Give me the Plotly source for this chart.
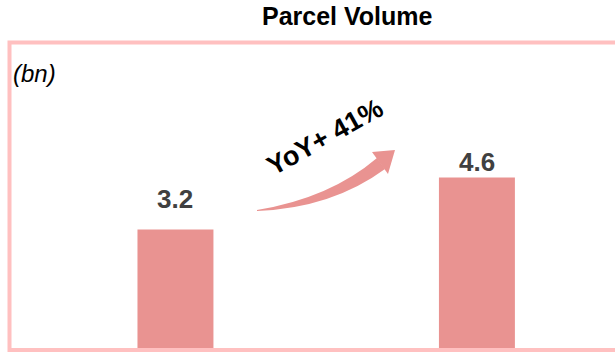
import plotly.graph_objects as go

categories = ["Year 1", "Year 2"]
values = [3.2, 4.6]
value_labels = ["3.2", "4.6"]
title_text = "Parcel Volume"
unit_text = "(bn)"
growth_text = "YoY+ 41%"

W, H = 615, 352
BAR = "#E99391"
BORDER = "#FFC0C0"

def px(x):
    return x / W

def py(y):
    return 1 - y / H

fig = go.Figure()
fig.add_trace(go.Bar(x=categories, y=values, width=0.252,
                     marker=dict(color=BAR, line=dict(width=0)),
                     hoverinfo="skip"))

label_shift = [30, 16]
annotations = []
for c, v, t, s in zip(categories, values, value_labels, label_shift):
    annotations.append(dict(x=c, y=v, xref="x", yref="y", text=f"<b>{t}</b>",
                            showarrow=False, yanchor="middle", yshift=s,
                            font=dict(family="Liberation Sans, Arial", size=26, color="#404040")))

annotations.append(dict(x=px(347), y=py(16), xref="paper", yref="paper",
                        text=f"<b>{title_text}</b>", showarrow=False,
                        xanchor="center", yanchor="middle",
                        font=dict(family="Liberation Sans, Arial", size=25, color="#000000")))
annotations.append(dict(x=px(11), y=py(73), xref="paper", yref="paper",
                        text=f"<i>{unit_text}</i>", showarrow=False,
                        xanchor="left", yanchor="middle",
                        font=dict(family="Liberation Sans, Arial", size=24, color="#000000")))
annotations.append(dict(x=px(325), y=py(137), xref="paper", yref="paper",
                        text=f"<b>{growth_text}</b>", showarrow=False, textangle=-29,
                        xanchor="center", yanchor="middle",
                        font=dict(family="Liberation Sans, Arial", size=27, color="#000000")))

def P(x, y):
    return f"{px(x):.5f},{py(y):.5f}"

arrow_body = (f"M {P(257,210)} Q {P(330,198)} {P(377,158)} "
              f"L {P(385,169)} Q {P(332,208)} {P(257,211)} Z")
arrow_head = f"M {P(372,152)} L {P(395,150)} L {P(388,174)} Z"

shapes = [
    dict(type="rect", xref="paper", yref="paper", x0=px(9.5), x1=1.05,
         y0=py(350), y1=py(42.5), line=dict(color=BORDER, width=4), layer="below"),
    dict(type="path", xref="paper", yref="paper", path=arrow_body,
         fillcolor=BAR, line=dict(width=0)),
    dict(type="path", xref="paper", yref="paper", path=arrow_head,
         fillcolor=BAR, line=dict(width=0)),
]

fig.update_layout(
    width=W, height=H, margin=dict(l=0, r=0, t=0, b=0),
    paper_bgcolor="white", plot_bgcolor="white", showlegend=False,
    xaxis=dict(range=[-0.582, 1.458], visible=False, fixedrange=True),
    yaxis=dict(range=[-4 / 37.05, 348 / 37.05], visible=False, fixedrange=True),
    annotations=annotations, shapes=shapes,
)
fig.write_html("out.html", config={"displayModeBar": False})
